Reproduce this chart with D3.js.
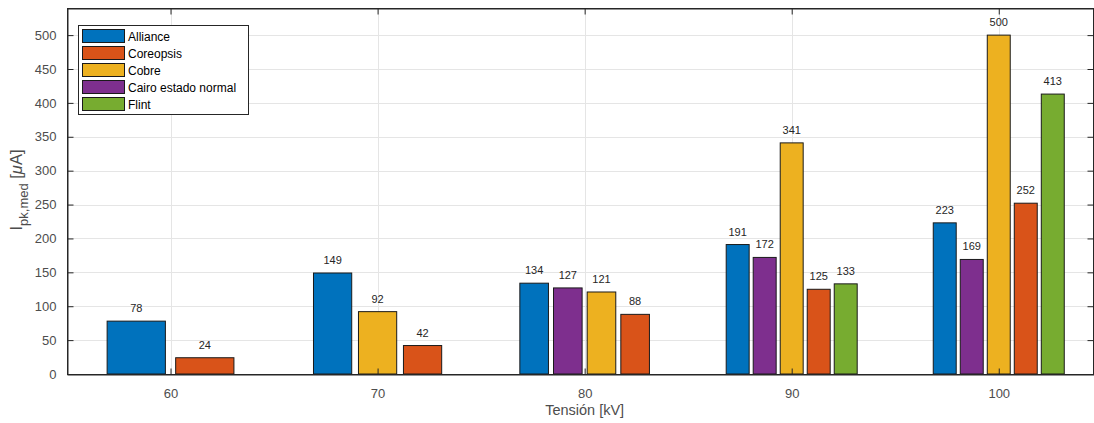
<!DOCTYPE html>
<html>
<head>
<meta charset="utf-8">
<script src="https://cdn.jsdelivr.net/npm/d3@7"></script>
<style>
  body { margin: 0; background: #fff; }
  svg { font-family: "Liberation Sans", Arial, sans-serif; display: block; }
</style>
</head>
<body>
<svg id="chart" width="1094" height="423"></svg>
<script>
// tension groups (kV)
const voltages = [60, 70, 80, 90, 100];
const seriesNames = ["Alliance", "Coreopsis", "Cobre", "Cairo estado normal", "Flint"];
const seriesColors = ["#0072BD", "#D95319", "#EDB120", "#7E2F8E", "#77AC30"];
// bar order inside each group as drawn in the figure, with values
const groupOrder = [
  ["Alliance", "Coreopsis"],
  ["Alliance", "Cobre", "Coreopsis"],
  ["Alliance", "Cairo estado normal", "Cobre", "Coreopsis"],
  ["Alliance", "Cairo estado normal", "Cobre", "Coreopsis", "Flint"],
  ["Alliance", "Cairo estado normal", "Cobre", "Coreopsis", "Flint"]
];
const groupValues = [
  [78, 24],
  [149, 92, 42],
  [134, 127, 121, 88],
  [191, 172, 341, 125, 133],
  [223, 169, 500, 252, 413]
];
const yTicks = [0, 50, 100, 150, 200, 250, 300, 350, 400, 450, 500];

const svg = d3.select("#chart");
const m = { l: 67, r: 1094, t: 8, b: 374 };
const axisCol = "#262626", txtCol = "#4d4d4d";

const x = d3.scaleLinear().domain([55, 104.6]).range([m.l, m.r]);
const y = d3.scaleLinear().domain([0, 540]).range([m.b, m.t]);
const color = d3.scaleOrdinal().domain(seriesNames).range(seriesColors);

// grid
const grid = svg.append("g").attr("stroke", "#e5e5e5").attr("stroke-width", 1);
grid.selectAll(".gy").data(yTicks.slice(1)).join("line")
  .attr("x1", m.l).attr("x2", m.r)
  .attr("y1", d => Math.round(y(d)) + 0.5).attr("y2", d => Math.round(y(d)) + 0.5);
grid.selectAll(".gx").data(voltages).join("line")
  .attr("y1", m.t).attr("y2", m.b)
  .attr("x1", d => Math.round(x(d)) + 0.5).attr("x2", d => Math.round(x(d)) + 0.5);

// bars
voltages.forEach((v, gi) => {
  const n = groupOrder[gi].length;
  const gw = 124 + 1.4 * n;
  const inner = d3.scaleBand()
    .domain(groupOrder[gi])
    .range([x(v) - gw / 2, x(v) + gw / 2])
    .paddingInner(0.15);
  const data = groupOrder[gi].map((s, i) => ({ s, v: groupValues[gi][i] }));
  const g = svg.append("g");
  g.selectAll("rect").data(data).join("rect")
    .attr("x", d => inner(d.s))
    .attr("width", inner.bandwidth())
    .attr("y", d => y(d.v))
    .attr("height", d => y(0) - y(d.v))
    .attr("fill", d => color(d.s))
    .attr("stroke", "#1a1a1a")
    .attr("stroke-width", 1);
  g.selectAll("text").data(data).join("text")
    .attr("x", d => inner(d.s) + inner.bandwidth() / 2)
    .attr("y", d => y(d.v) - 9)
    .attr("text-anchor", "middle")
    .attr("font-size", 11)
    .attr("fill", "#262626")
    .text(d => d.v);
});

// axes box
svg.append("rect")
  .attr("x", m.l + 0.5).attr("y", m.t + 0.5)
  .attr("width", m.r - m.l - 1).attr("height", m.b - m.t)
  .attr("fill", "none").attr("stroke", axisCol);

const yAxisL = d3.axisLeft(y).tickValues(yTicks).tickSizeInner(-6).tickSizeOuter(0).tickPadding(11);
const gl = svg.append("g").attr("transform", `translate(${m.l + 0.5},0)`).call(yAxisL);
const yAxisR = d3.axisRight(y).tickValues(yTicks).tickSizeInner(-6).tickSizeOuter(0).tickFormat("");
const gr = svg.append("g").attr("transform", `translate(${m.r - 0.5},0)`).call(yAxisR);
const xAxisB = d3.axisBottom(x).tickValues(voltages).tickSizeInner(-6).tickSizeOuter(0).tickPadding(14);
const gb = svg.append("g").attr("transform", `translate(0,${m.b + 0.5})`).call(xAxisB);
const xAxisT = d3.axisTop(x).tickValues(voltages).tickSizeInner(-6).tickSizeOuter(0).tickFormat("");
const gt = svg.append("g").attr("transform", `translate(0,${m.t + 0.5})`).call(xAxisT);
[gl, gr, gb, gt].forEach(g => {
  g.select(".domain").attr("stroke", axisCol);
  g.selectAll(".tick line").attr("stroke", axisCol);
  g.selectAll(".tick text").attr("fill", txtCol).attr("font-size", 13)
    .attr("font-family", "'Liberation Sans', Arial, sans-serif");
});

// axis labels
svg.append("text")
  .attr("x", x(80)).attr("y", 415)
  .attr("text-anchor", "middle").attr("font-size", 14.5).attr("fill", txtCol)
  .text("Tensión [kV]");

const yl = svg.append("text")
  .attr("transform", "translate(22,190) rotate(-90)")
  .attr("text-anchor", "middle").attr("font-size", 16.5).attr("fill", txtCol);
yl.append("tspan").text("I");
yl.append("tspan").attr("font-size", 13).attr("dy", 6).text("pk,med");
yl.append("tspan").attr("dy", -6).text(" [");
yl.append("tspan").attr("font-style", "italic").text("μ");
yl.append("tspan").text("A]");

// legend
const lg = svg.append("g").attr("transform", "translate(78,25)");
lg.append("rect").attr("x", 0.5).attr("y", 0.5).attr("width", 170).attr("height", 89)
  .attr("fill", "#fff").attr("stroke", axisCol);
const row = d3.scaleBand().domain(seriesNames).range([3, 88]);
const items = lg.selectAll(".item").data(seriesNames).join("g")
  .attr("transform", d => `translate(0,${row(d)})`);
items.append("rect")
  .attr("x", 4.5).attr("y", 1.5).attr("width", 42).attr("height", 13)
  .attr("fill", d => color(d)).attr("stroke", "#1a1a1a");
items.append("text")
  .attr("x", 50).attr("y", 12.5)
  .attr("font-size", 12).attr("fill", "#000")
  .text(d => d);
</script>
</body>
</html>
